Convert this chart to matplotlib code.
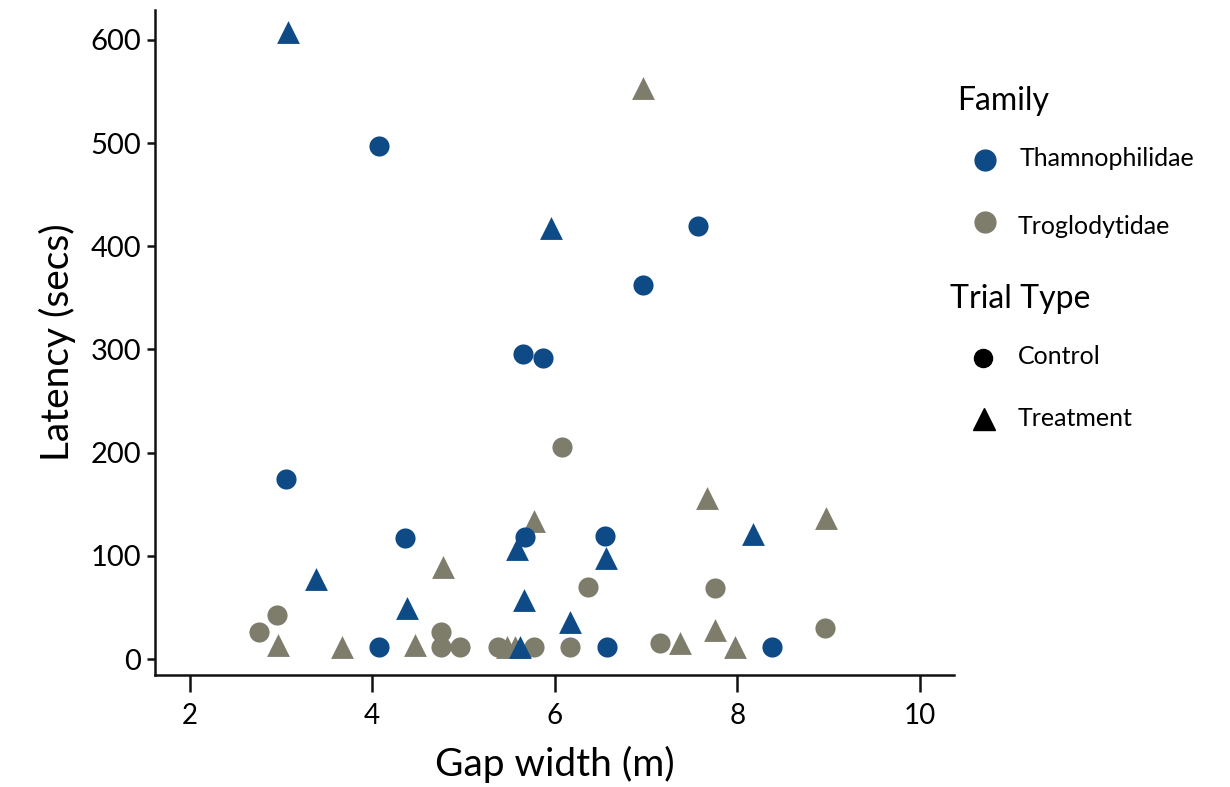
import matplotlib
matplotlib.use("Agg")
import matplotlib.pyplot as plt
from matplotlib.lines import Line2D

plt.rcParams["font.family"] = ["Lato", "DejaVu Sans"]

BLUE = "#0d4a86"
GREY = "#7e7d6b"

# Thamnophilidae, control trials
thamno_ctrl_x = [4.07, 7.57, 6.97, 5.65, 5.87, 3.06, 4.36, 6.55, 5.67, 4.07, 6.57, 8.38]
thamno_ctrl_y = [497, 420, 362, 296, 292, 174, 117, 119, 118, 12, 12, 12]

# Thamnophilidae, treatment trials
thamno_trt_x = [3.08, 5.96, 3.38, 4.38, 5.66, 6.17, 5.62, 6.56, 8.17, 5.59]
thamno_trt_y = [608, 418, 78, 49, 57, 36, 12, 98, 121, 107]

# Troglodytidae, control trials
troglo_ctrl_x = [6.08, 6.36, 7.76, 8.96, 2.76, 2.96, 4.75, 4.75, 4.96, 5.38, 5.77, 6.17, 7.15]
troglo_ctrl_y = [205, 70, 69, 30, 26, 43, 26, 12, 12, 12, 12, 12, 16]

# Troglodytidae, treatment trials
troglo_trt_x = [6.97, 5.77, 4.78, 7.67, 8.97, 2.97, 3.67, 4.47, 5.48, 5.57, 7.37, 7.76, 7.98]
troglo_trt_y = [553, 134, 89, 156, 137, 14, 12, 14, 12, 12, 16, 28, 12]

x_ticks = [2, 4, 6, 8, 10]
y_ticks = [0, 100, 200, 300, 400, 500, 600]


def main() -> None:
    fig = plt.figure(figsize=(12.3, 7.87), dpi=100)
    ax = fig.add_axes([0.126, 0.1423, 0.650, 0.845])

    ax.scatter(troglo_ctrl_x, troglo_ctrl_y, s=210, marker="o", color=GREY, linewidths=0)
    ax.scatter(troglo_trt_x, troglo_trt_y, s=270, marker="^", color=GREY, linewidths=0)
    ax.scatter(thamno_ctrl_x, thamno_ctrl_y, s=210, marker="o", color=BLUE, linewidths=0)
    ax.scatter(thamno_trt_x, thamno_trt_y, s=270, marker="^", color=BLUE, linewidths=0)

    ax.set_xlim(1.62, 10.38)
    ax.set_ylim(-15.5, 629)
    ax.set_xticks(x_ticks)
    ax.set_yticks(y_ticks)

    for side in ("top", "right"):
        ax.spines[side].set_visible(False)
    for side in ("left", "bottom"):
        ax.spines[side].set_linewidth(1.8)
        ax.spines[side].set_color("#111111")

    ax.tick_params(axis="x", length=12, width=1.8, color="#111111", labelsize=20, pad=8)
    ax.tick_params(axis="y", length=6, width=1.8, color="#111111", labelsize=21, pad=4)

    ax.set_xlabel("Gap width (m)", fontsize=28, labelpad=12)
    ax.set_ylabel("Latency (secs)", fontsize=28, labelpad=10)

    # legend drawn by hand in figure coordinates
    W, H = 1230.0, 787.0

    def fx(px):
        return px / W

    def fy(py):
        return 1 - py / H

    fig.text(fx(957), fy(101), "Family", fontsize=23, va="center", ha="left")
    fig.text(fx(1020), fy(159), "Thamnophilidae", fontsize=18, va="center", ha="left")
    fig.text(fx(1018), fy(226), "Troglodytidae", fontsize=18, va="center", ha="left")
    fig.text(fx(950), fy(299), "Trial Type", fontsize=23, va="center", ha="left")
    fig.text(fx(1018), fy(357), "Control", fontsize=18, va="center", ha="left")
    fig.text(fx(1018), fy(419), "Treatment", fontsize=18, va="center", ha="left")

    legend_marks = [
        (985, 160, "o", BLUE, 15),
        (985, 222, "o", GREY, 15),
        (983, 358, "o", "black", 13),
        (984, 419, "^", "black", 16),
    ]
    for px, py, mk, col, ms in legend_marks:
        fig.add_artist(Line2D([fx(px)], [fy(py)], marker=mk, markersize=ms,
                              color=col, linestyle="none",
                              transform=fig.transFigure))

    fig.savefig("out.png", dpi=100)


if __name__ == "__main__":
    main()
